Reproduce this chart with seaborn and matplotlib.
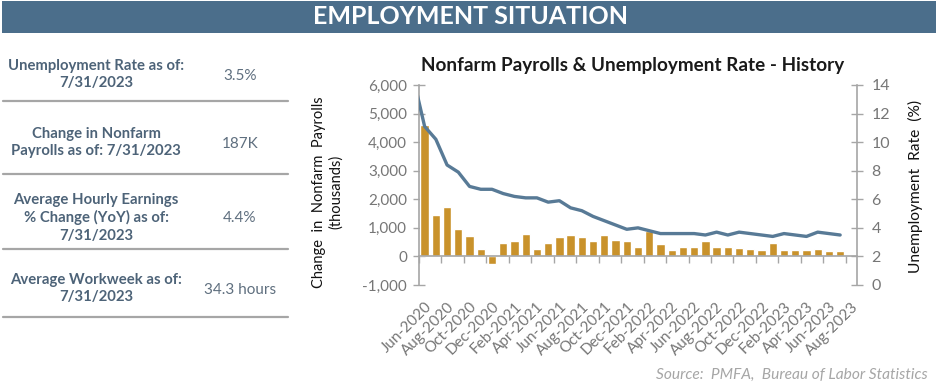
import numpy as np
import pandas as pd
import matplotlib
matplotlib.use("Agg")
import matplotlib.pyplot as plt
from matplotlib.patches import Rectangle
from matplotlib.lines import Line2D
import seaborn as sns

# ---------------- data ----------------
months = ["May-2020",
          "Jun-2020", "Jul-2020", "Aug-2020", "Sep-2020", "Oct-2020", "Nov-2020", "Dec-2020",
          "Jan-2021", "Feb-2021", "Mar-2021", "Apr-2021", "May-2021", "Jun-2021", "Jul-2021",
          "Aug-2021", "Sep-2021", "Oct-2021", "Nov-2021", "Dec-2021",
          "Jan-2022", "Feb-2022", "Mar-2022", "Apr-2022", "May-2022", "Jun-2022", "Jul-2022",
          "Aug-2022", "Sep-2022", "Oct-2022", "Nov-2022", "Dec-2022",
          "Jan-2023", "Feb-2023", "Mar-2023", "Apr-2023", "May-2023", "Jun-2023", "Jul-2023",
          "Aug-2023"]

payrolls = [np.nan,
            4600, 1450, 1740, 950, 700, 250, -280,
            460, 540, 790, 250, 470, 670, 750,
            670, 550, 750, 590, 550,
            330, 880, 420, 240, 330, 340, 540,
            340, 340, 290, 250, 210,
            460, 210, 210, 210, 250, 175, 187,
            np.nan]

unemployment = [14.5,
                11.1, 10.2, 8.4, 7.9, 6.9, 6.7, 6.7,
                6.4, 6.2, 6.1, 6.1, 5.8, 5.9, 5.4,
                5.2, 4.8, 4.5, 4.2, 3.9,
                4.0, 3.8, 3.6, 3.6, 3.6, 3.6, 3.5,
                3.7, 3.5, 3.7, 3.6, 3.5,
                3.4, 3.6, 3.5, 3.4, 3.7, 3.6, 3.5,
                np.nan]

tick_labels = months[1::2]

stat_labels = ["Unemployment Rate as of:\n7/31/2023",
               "Change in Nonfarm\nPayrolls as of: 7/31/2023",
               "Average Hourly Earnings\n% Change (YoY) as of:\n7/31/2023",
               "Average Workweek as of:\n7/31/2023"]
stat_values = ["3.5%", "187K", "4.4%", "34.3 hours"]

# ---------------- style ----------------
sns.set_theme(style="white")
plt.rcParams["font.family"] = ["Lato", "DejaVu Sans"]

BAR = "#C9922B"
LINE = "#587A96"
HEAD = "#4B6E8B"
AXG = "#A6A6A6"
TICKC = "#767676"
LBL = "#4D6378"
VAL = "#5F6F7F"

W, H = 938, 390
fig = plt.figure(figsize=(W / 100, H / 100), dpi=100)
fig.patch.set_facecolor("white")

def fx(p):
    return p / W

def fy(p):
    return 1 - p / H

# header band
fig.add_artist(Rectangle((fx(2), fy(33)), fx(934), 32 / H, transform=fig.transFigure,
                         facecolor=HEAD, edgecolor="none"))
fig.text(fx(470), fy(17), "EMPLOYMENT SITUATION", color="white", fontsize=18,
         fontweight="bold", ha="center", va="center")

# left table
label_y = [74.7, 142.7, 217.8, 288.8]
value_y = [76, 144.3, 218.3, 290]
sep_y = [101, 174, 249, 317]
for lab, val, ly, vy, sy in zip(stat_labels, stat_values, label_y, value_y, sep_y):
    fig.text(fx(96), fy(ly), lab, color=LBL, fontsize=10.7, fontweight="bold",
             ha="center", va="center", linespacing=1.3)
    fig.text(fx(240), fy(vy), val, color=VAL, fontsize=11, ha="center", va="center")
    fig.add_artist(Line2D([fx(3), fx(288)], [fy(sy), fy(sy)], transform=fig.transFigure,
                          color=AXG, lw=1.6))

# ---------------- chart ----------------
ax = fig.add_axes([fx(419), fy(285), fx(857 - 419), (285 - 85) / H])
df = pd.DataFrame({"month": months, "payrolls": payrolls})
sns.barplot(data=df, x="month", y="payrolls", order=months, color=BAR, width=0.74,
            saturation=1, ax=ax, errorbar=None)
n = len(months)

ax2 = ax.twinx()
sns.lineplot(x=np.arange(n), y=unemployment, ax=ax2, color=LINE, linewidth=2.4, sort=False)

# spines first (set_position resets the ticks)
for s in ["top", "right"]:
    ax.spines[s].set_visible(False)
ax.spines["bottom"].set_position(("data", 0))
ax.spines["bottom"].set_color(AXG)
ax.spines["left"].set_color(AXG)
ax.spines["bottom"].set_linewidth(1.2)
ax.spines["left"].set_linewidth(1.2)
for s in ["top", "left", "bottom"]:
    ax2.spines[s].set_visible(False)
ax2.spines["right"].set_color(AXG)
ax2.spines["right"].set_linewidth(1.2)

ax.set_xlim(0.5, n - 0.5)
ax2.set_xlim(0.5, n - 0.5)
ax.set_ylim(-1000, 6000)
ax.set_yticks(np.arange(-1000, 6001, 1000))
ax.yaxis.set_major_formatter(matplotlib.ticker.FuncFormatter(lambda v, p: f"{v:,.0f}"))
ax.set_xlabel("")
ax.set_ylabel("")

ax.set_xticks(np.arange(1, n, 2))
ax.set_xticklabels(tick_labels)
ax.set_xticks(np.arange(0.5, n, 2), minor=True)
ax.tick_params(axis="x", which="major", length=0, pad=31, labelsize=11,
               labelcolor=TICKC, labelrotation=45)
ax.tick_params(axis="x", which="minor", length=5, width=1, color=AXG, direction="out",
               bottom=True)
plt.setp(ax.get_xticklabels(), ha="right", rotation_mode="anchor")
ax.tick_params(axis="y", which="major", length=9, width=1, color=AXG, direction="inout",
               labelsize=11, labelcolor=TICKC, pad=4, left=True)

ax2.set_ylim(0, 14)
ax2.set_yticks(np.arange(0, 15, 2))
ax2.tick_params(axis="y", which="major", length=9, width=1, color=AXG, direction="inout",
                labelsize=11.5, labelcolor=TICKC, pad=6, right=True)
ax2.set_ylabel("")
ax2.set_xlabel("")

# titles and axis labels
fig.text(fx(633), fy(66), "Nonfarm Payrolls & Unemployment Rate - History",
         color="#1A1A1A", fontsize=13.6, fontweight="bold", ha="center", va="center")
fig.text(fx(328), fy(192), "Change  in  Nonfarm  Payrolls\n(thousands)", rotation=90,
         color="#111111", fontsize=10.5, ha="center", va="center", linespacing=1.25)
fig.text(fx(915), fy(186), "Unemployment  Rate  (%)", rotation=90,
         color="#111111", fontsize=11.2, ha="center", va="center")
fig.text(fx(928), fy(375), "Source:  PMFA,  Bureau of Labor Statistics", color="#A6A6A6",
         fontsize=11.2, style="italic", ha="right", va="center")

fig.savefig("out.png", dpi=100, facecolor="white")
